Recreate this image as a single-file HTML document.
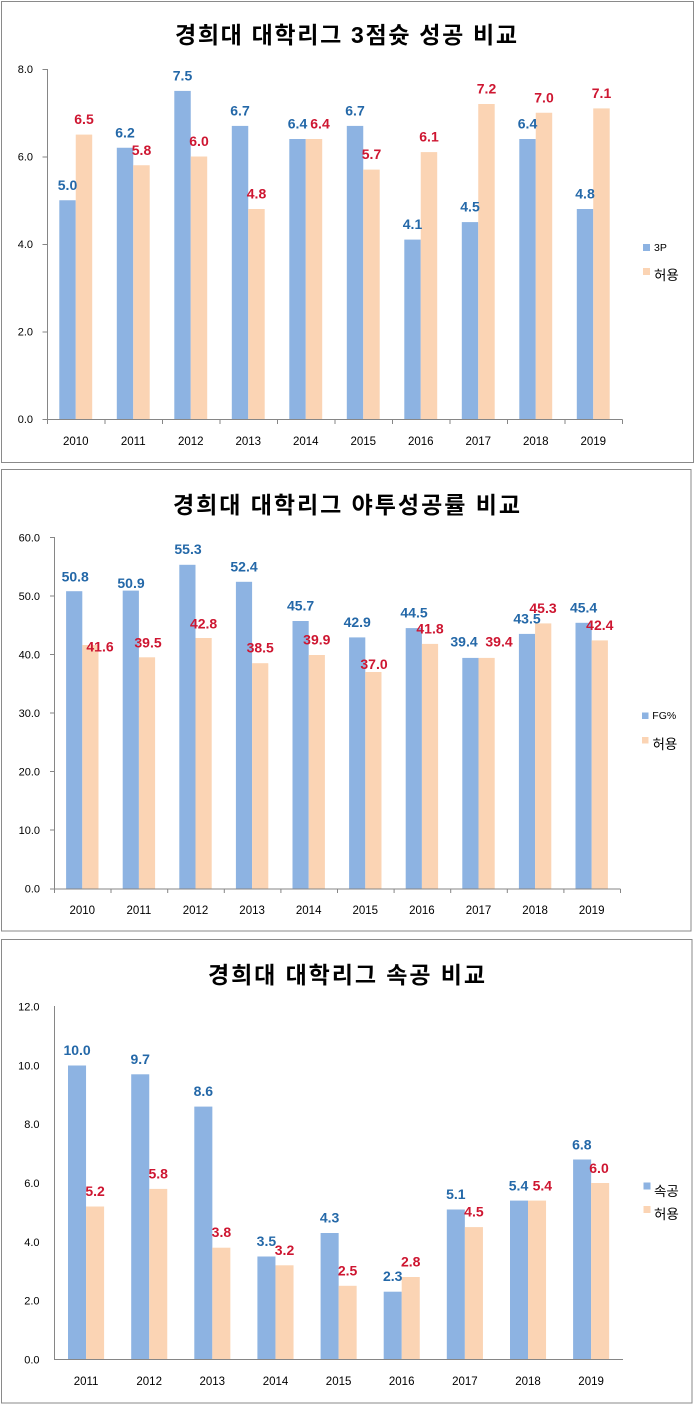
<!DOCTYPE html>
<html>
<head>
<meta charset="utf-8">
<style>
html,body{margin:0;padding:0;background:#fff;}
svg{display:block;}
.t{font-family:"Liberation Sans","Noto Sans CJK KR",sans-serif;font-weight:bold;font-size:23px;fill:#000;text-anchor:middle;}
.ax{font-family:"Liberation Sans","Noto Sans CJK KR",sans-serif;font-size:11px;fill:#000;}
.yl{text-anchor:end;}
.xl{text-anchor:middle;font-size:11.5px;}
.b{font-family:"Liberation Sans",sans-serif;font-weight:bold;font-size:14px;fill:#2468A8;text-anchor:middle;}
.r{font-family:"Liberation Sans",sans-serif;font-weight:bold;font-size:14px;fill:#CE1631;text-anchor:middle;}
.lg{font-family:"Liberation Sans",sans-serif;font-size:10.5px;fill:#000;}
.lk{font-family:"Liberation Sans","Noto Sans CJK KR",sans-serif;font-size:13.5px;fill:#000;}
.bb{fill:#8DB3E2;}
.ob{fill:#FBD4B4;}
.axis{stroke:#868686;stroke-width:1;fill:none;}
.frame{stroke:#8a8a8a;stroke-width:1;fill:#fff;}
</style>
</head>
<body>
<svg width="696" height="1410" viewBox="0 0 696 1410" xmlns="http://www.w3.org/2000/svg">
<rect x="0" y="0" width="696" height="1410" fill="#fff"/>

<!-- ================= CHART 1 ================= -->
<rect class="frame" x="1.5" y="1.5" width="692" height="461"/>
<text class="t" x="346" y="43" textLength="342">경희대 대학리그 3점슛 성공 비교</text>

<!-- bars -->
<rect class="bb" x="59.3" y="200.25" width="16.45" height="218.75"/>
<rect class="ob" x="75.75" y="134.6" width="16.45" height="284.4"/>
<rect class="bb" x="116.8" y="147.75" width="16.45" height="271.25"/>
<rect class="ob" x="133.25" y="165.25" width="16.45" height="253.75"/>
<rect class="bb" x="174.3" y="90.9" width="16.45" height="328.1"/>
<rect class="ob" x="190.75" y="156.5" width="16.45" height="262.5"/>
<rect class="bb" x="231.8" y="125.9" width="16.45" height="293.1"/>
<rect class="ob" x="248.25" y="209" width="16.45" height="210"/>
<rect class="bb" x="289.3" y="139" width="16.45" height="280"/>
<rect class="ob" x="305.75" y="139" width="16.45" height="280"/>
<rect class="bb" x="346.8" y="125.9" width="16.45" height="293.1"/>
<rect class="ob" x="363.25" y="169.6" width="16.45" height="249.4"/>
<rect class="bb" x="404.3" y="239.6" width="16.45" height="179.4"/>
<rect class="ob" x="420.75" y="152.1" width="16.45" height="266.9"/>
<rect class="bb" x="461.8" y="222.1" width="16.45" height="196.9"/>
<rect class="ob" x="478.25" y="104" width="16.45" height="315"/>
<rect class="bb" x="519.3" y="139" width="16.45" height="280"/>
<rect class="ob" x="535.75" y="112.75" width="16.45" height="306.25"/>
<rect class="bb" x="576.8" y="209" width="16.45" height="210"/>
<rect class="ob" x="593.25" y="108.4" width="16.45" height="310.6"/>

<!-- axes -->
<path class="axis" d="M47.5 69 V419.5 H622.5"/>
<path class="axis" d="M42.5 69.5 H47.5 M42.5 157 H47.5 M42.5 244.5 H47.5 M42.5 332 H47.5 M42.5 419.5 H47.5"/>
<path class="axis" d="M47.5 419.5 V424 M105 419.5 V424 M162.5 419.5 V424 M220 419.5 V424 M277.5 419.5 V424 M335 419.5 V424 M392.5 419.5 V424 M450 419.5 V424 M507.5 419.5 V424 M565 419.5 V424 M622.5 419.5 V424"/>
<text class="ax yl" x="33" y="73">8.0</text>
<text class="ax yl" x="33" y="160.5">6.0</text>
<text class="ax yl" x="33" y="248">4.0</text>
<text class="ax yl" x="33" y="335.5">2.0</text>
<text class="ax yl" x="33" y="423">0.0</text>
<text class="ax xl" x="75.75" y="445">2010</text>
<text class="ax xl" x="133.25" y="445">2011</text>
<text class="ax xl" x="190.75" y="445">2012</text>
<text class="ax xl" x="248.25" y="445">2013</text>
<text class="ax xl" x="305.75" y="445">2014</text>
<text class="ax xl" x="363.25" y="445">2015</text>
<text class="ax xl" x="420.75" y="445">2016</text>
<text class="ax xl" x="478.25" y="445">2017</text>
<text class="ax xl" x="535.75" y="445">2018</text>
<text class="ax xl" x="593.25" y="445">2019</text>

<!-- labels -->
<text class="b" x="67.5" y="189.75">5.0</text>
<text class="b" x="125" y="137.25">6.2</text>
<text class="b" x="182.5" y="80.4">7.5</text>
<text class="b" x="240" y="115.4">6.7</text>
<text class="b" x="297.5" y="128.5">6.4</text>
<text class="b" x="355" y="115.4">6.7</text>
<text class="b" x="412.5" y="229.1">4.1</text>
<text class="b" x="470" y="211.6">4.5</text>
<text class="b" x="527.5" y="128.5">6.4</text>
<text class="b" x="585" y="198.5">4.8</text>
<text class="r" x="84" y="124.1">6.5</text>
<text class="r" x="141.5" y="154.75">5.8</text>
<text class="r" x="199" y="146">6.0</text>
<text class="r" x="256.5" y="198.5">4.8</text>
<text class="r" x="320" y="128.5">6.4</text>
<text class="r" x="371.5" y="159.1">5.7</text>
<text class="r" x="429" y="141.6">6.1</text>
<text class="r" x="486.5" y="93.5">7.2</text>
<text class="r" x="544" y="102.25">7.0</text>
<text class="r" x="601.5" y="97.9">7.1</text>

<!-- legend -->
<rect class="bb" x="643" y="244" width="7" height="7"/>
<text class="lg" x="654" y="251">3P</text>
<rect class="ob" x="643" y="268" width="7" height="7"/>
<text class="lk" x="654" y="280">허용</text>

<!-- ================= CHART 2 ================= -->
<rect class="frame" x="1.5" y="469.5" width="689.5" height="461.5"/>
<text class="t" x="346.5" y="513" textLength="347">경희대 대학리그 야투성공률 비교</text>

<rect class="bb" x="66.1" y="591.2" width="16.2" height="297.5"/>
<rect class="ob" x="82.3" y="645" width="16.2" height="243.7"/>
<rect class="bb" x="122.7" y="590.6" width="16.2" height="298.1"/>
<rect class="ob" x="138.9" y="657.3" width="16.2" height="231.4"/>
<rect class="bb" x="179.3" y="564.8" width="16.2" height="323.9"/>
<rect class="ob" x="195.5" y="638" width="16.2" height="250.7"/>
<rect class="bb" x="235.9" y="581.8" width="16.2" height="306.9"/>
<rect class="ob" x="252.1" y="663.2" width="16.2" height="225.5"/>
<rect class="bb" x="292.5" y="621" width="16.2" height="267.7"/>
<rect class="ob" x="308.7" y="655" width="16.2" height="233.7"/>
<rect class="bb" x="349.1" y="637.4" width="16.2" height="251.3"/>
<rect class="ob" x="365.3" y="672" width="16.2" height="216.7"/>
<rect class="bb" x="405.7" y="628.1" width="16.2" height="260.6"/>
<rect class="ob" x="421.9" y="643.9" width="16.2" height="244.8"/>
<rect class="bb" x="462.3" y="657.9" width="16.2" height="230.8"/>
<rect class="ob" x="478.5" y="657.9" width="16.2" height="230.8"/>
<rect class="bb" x="518.9" y="633.9" width="16.2" height="254.8"/>
<rect class="ob" x="535.1" y="623.4" width="16.2" height="265.3"/>
<rect class="bb" x="575.5" y="622.8" width="16.2" height="265.9"/>
<rect class="ob" x="591.7" y="640.4" width="16.2" height="248.3"/>

<path class="axis" d="M54.5 537 V889 H620.5"/>
<path class="axis" d="M50 537.5 H54.5 M50 596 H54.5 M50 654.5 H54.5 M50 713 H54.5 M50 771.5 H54.5 M50 830 H54.5 M50 889 H54.5"/>
<path class="axis" d="M54.5 889 V893 M111 889 V893 M167.7 889 V893 M224.3 889 V893 M280.9 889 V893 M337.5 889 V893 M394.1 889 V893 M450.7 889 V893 M507.3 889 V893 M563.9 889 V893 M620.5 889 V893"/>
<text class="ax yl" x="40" y="541.3">60.0</text>
<text class="ax yl" x="40" y="599.9">50.0</text>
<text class="ax yl" x="40" y="658.4">40.0</text>
<text class="ax yl" x="40" y="717">30.0</text>
<text class="ax yl" x="40" y="775.6">20.0</text>
<text class="ax yl" x="40" y="834.1">10.0</text>
<text class="ax yl" x="40" y="892.7">0.0</text>
<text class="ax xl" x="82.3" y="914">2010</text>
<text class="ax xl" x="138.9" y="914">2011</text>
<text class="ax xl" x="195.5" y="914">2012</text>
<text class="ax xl" x="252.1" y="914">2013</text>
<text class="ax xl" x="308.7" y="914">2014</text>
<text class="ax xl" x="365.3" y="914">2015</text>
<text class="ax xl" x="421.9" y="914">2016</text>
<text class="ax xl" x="478.5" y="914">2017</text>
<text class="ax xl" x="535.1" y="914">2018</text>
<text class="ax xl" x="591.7" y="914">2019</text>

<text class="b" x="75.2" y="581.7">50.8</text>
<text class="b" x="131" y="588">50.9</text>
<text class="b" x="188" y="554">55.3</text>
<text class="b" x="244" y="571.3">52.4</text>
<text class="b" x="300.6" y="610.5">45.7</text>
<text class="b" x="357.2" y="626.9">42.9</text>
<text class="b" x="414" y="617.6">44.5</text>
<text class="b" x="464" y="646.7">39.4</text>
<text class="b" x="527" y="623.4">43.5</text>
<text class="b" x="583.6" y="612.3">45.4</text>
<text class="r" x="100" y="651.7">41.6</text>
<text class="r" x="148" y="647.3">39.5</text>
<text class="r" x="203.6" y="628.3">42.8</text>
<text class="r" x="260.2" y="652.7">38.5</text>
<text class="r" x="316.8" y="644.5">39.9</text>
<text class="r" x="374" y="669">37.0</text>
<text class="r" x="430" y="633.4">41.8</text>
<text class="r" x="499" y="646.7">39.4</text>
<text class="r" x="543" y="612.9">45.3</text>
<text class="r" x="599.8" y="629.9">42.4</text>

<rect class="bb" x="642" y="712.5" width="6.5" height="6.5"/>
<text class="lg" x="652.3" y="719">FG%</text>
<rect class="ob" x="642" y="737" width="6.5" height="6.5"/>
<text class="lk" x="652.5" y="749">허용</text>

<!-- ================= CHART 3 ================= -->
<rect class="frame" x="1.5" y="939.5" width="690.5" height="463.5"/>
<text class="t" x="346.5" y="983" textLength="277">경희대 대학리그 속공 비교</text>

<rect class="bb" x="68" y="1065.5" width="18.05" height="293.8"/>
<rect class="ob" x="86.05" y="1206.5" width="18.05" height="152.8"/>
<rect class="bb" x="131.2" y="1074.3" width="18.05" height="285"/>
<rect class="ob" x="149.2" y="1188.9" width="18.05" height="170.4"/>
<rect class="bb" x="194.3" y="1106.6" width="18.05" height="252.7"/>
<rect class="ob" x="212.3" y="1247.7" width="18.05" height="111.6"/>
<rect class="bb" x="257.4" y="1256.5" width="18.05" height="102.8"/>
<rect class="ob" x="275.5" y="1265.3" width="18.05" height="94"/>
<rect class="bb" x="320.6" y="1233" width="18.05" height="126.3"/>
<rect class="ob" x="338.6" y="1285.8" width="18.05" height="73.5"/>
<rect class="bb" x="383.7" y="1291.7" width="18.05" height="67.6"/>
<rect class="ob" x="401.7" y="1277" width="18.05" height="82.3"/>
<rect class="bb" x="446.8" y="1209.5" width="18.05" height="149.8"/>
<rect class="ob" x="464.9" y="1227.1" width="18.05" height="132.2"/>
<rect class="bb" x="510" y="1200.6" width="18.05" height="158.7"/>
<rect class="ob" x="528" y="1200.6" width="18.05" height="158.7"/>
<rect class="bb" x="573.1" y="1159.5" width="18.05" height="199.8"/>
<rect class="ob" x="591.1" y="1183" width="18.05" height="176.3"/>

<path class="axis" d="M54.5 1006 V1359.5 H623"/>
<text class="ax yl" x="39.5" y="1010.7">12.0</text>
<text class="ax yl" x="39.5" y="1069.5">10.0</text>
<text class="ax yl" x="39.5" y="1128.2">8.0</text>
<text class="ax yl" x="39.5" y="1187">6.0</text>
<text class="ax yl" x="39.5" y="1245.8">4.0</text>
<text class="ax yl" x="39.5" y="1304.5">2.0</text>
<text class="ax yl" x="39.5" y="1363.3">0.0</text>
<text class="ax xl" x="86.1" y="1385">2011</text>
<text class="ax xl" x="149.2" y="1385">2012</text>
<text class="ax xl" x="212.3" y="1385">2013</text>
<text class="ax xl" x="275.5" y="1385">2014</text>
<text class="ax xl" x="338.6" y="1385">2015</text>
<text class="ax xl" x="401.7" y="1385">2016</text>
<text class="ax xl" x="464.9" y="1385">2017</text>
<text class="ax xl" x="528" y="1385">2018</text>
<text class="ax xl" x="591.1" y="1385">2019</text>

<text class="b" x="77.1" y="1055">10.0</text>
<text class="b" x="140.2" y="1063.8">9.7</text>
<text class="b" x="203.3" y="1096.1">8.6</text>
<text class="b" x="266.4" y="1246">3.5</text>
<text class="b" x="329.6" y="1222.5">4.3</text>
<text class="b" x="392.7" y="1281.2">2.3</text>
<text class="b" x="455.8" y="1199">5.1</text>
<text class="b" x="518.5" y="1190.5">5.4</text>
<text class="b" x="581.8" y="1149.5">6.8</text>
<text class="r" x="95.1" y="1196">5.2</text>
<text class="r" x="158.2" y="1178.4">5.8</text>
<text class="r" x="221.4" y="1237.2">3.8</text>
<text class="r" x="284.5" y="1254.8">3.2</text>
<text class="r" x="347.6" y="1275.3">2.5</text>
<text class="r" x="410.7" y="1266.5">2.8</text>
<text class="r" x="473.9" y="1216.6">4.5</text>
<text class="r" x="542.3" y="1190.5">5.4</text>
<text class="r" x="599" y="1173">6.0</text>

<rect class="bb" x="643.5" y="1182.5" width="7" height="7"/>
<text class="lk" x="654" y="1196">속공</text>
<rect class="ob" x="643.5" y="1206" width="7" height="7"/>
<text class="lk" x="654" y="1219">허용</text>
</svg>
</body>
</html>
